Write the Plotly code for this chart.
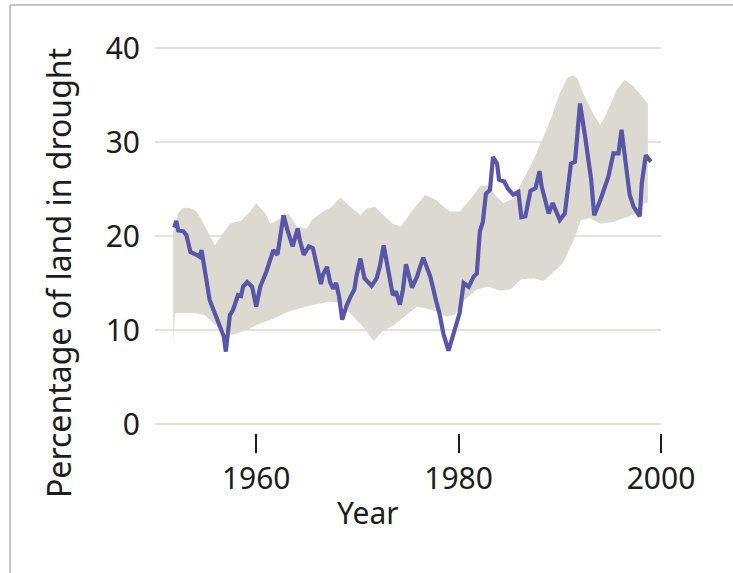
import plotly.graph_objects as go

# Observed share of land in drought (%)
line_years = [1951.9, 1952.1, 1952.3, 1952.8, 1953.1, 1953.5, 1954.1, 1954.4, 1954.6, 1955.4,
              1955.9, 1956.4, 1956.6, 1956.8, 1957.0, 1957.4, 1957.7, 1958.0, 1958.2, 1958.5,
              1958.7, 1959.1, 1959.6, 1960.0, 1960.4, 1961.0, 1961.4, 1961.7, 1962.1, 1962.7,
              1963.1, 1963.6, 1964.1, 1964.3, 1964.7, 1965.2, 1965.6, 1965.9, 1966.4, 1966.6,
              1967.0, 1967.3, 1967.6, 1967.9, 1968.2, 1968.5, 1968.9, 1969.3, 1969.7, 1969.9,
              1970.3, 1970.7, 1971.4, 1971.9, 1972.2, 1972.6, 1973.1, 1973.5, 1973.8, 1974.2,
              1974.5, 1974.8, 1975.4, 1975.9, 1976.5, 1977.2, 1977.8, 1978.1, 1978.5, 1979.0,
              1979.5, 1980.1, 1980.5, 1981.0, 1981.5, 1981.8, 1982.1, 1982.4, 1982.7, 1983.1,
              1983.4, 1983.8, 1984.0, 1984.5, 1984.9, 1985.4, 1985.9, 1986.2, 1986.6, 1987.1,
              1987.6, 1988.0, 1988.2, 1988.9, 1989.3, 1990.0, 1990.5, 1991.1, 1991.5, 1992.0,
              1992.5, 1992.8, 1993.1, 1993.4, 1994.0, 1994.8, 1995.3, 1995.8, 1996.1, 1996.9,
              1997.3, 1997.9, 1998.1, 1998.5, 1999.0]
line_values = [20.9, 21.6, 20.6, 20.5, 20.1, 18.3, 18.0, 17.8, 18.5, 13.2,
               11.8, 10.4, 9.6, 9.3, 7.7, 11.6, 12.1, 13.2, 13.7, 13.6,
               14.6, 15.1, 14.6, 12.5, 14.6, 16.2, 17.4, 18.5, 18.0, 22.2,
               20.6, 18.9, 20.8, 19.6, 18.0, 18.9, 18.7, 17.1, 14.9, 15.9,
               16.7, 15.1, 14.4, 15.0, 13.5, 11.1, 12.5, 13.5, 14.3, 15.7,
               17.6, 15.5, 14.7, 15.5, 16.7, 19.0, 15.8, 13.7, 14.1, 12.7,
               14.3, 17.0, 14.5, 15.7, 17.7, 15.7, 13.0, 11.8, 9.6, 7.8,
               9.6, 11.8, 15.0, 14.6, 15.7, 16.0, 20.5, 21.5, 24.5, 24.9,
               28.4, 27.7, 26.0, 25.8, 25.0, 24.4, 24.7, 22.0, 22.1, 24.8,
               25.1, 26.9, 25.3, 22.4, 23.5, 21.7, 22.4, 27.7, 27.9, 34.1,
               30.6, 28.1, 26.0, 22.2, 23.8, 26.3, 28.8, 28.8, 31.3, 24.4,
               23.1, 22.1, 25.6, 28.6, 27.9]

# Model range: upper edge
upper_years = [1951.8, 1952.3, 1952.8, 1953.4, 1954.0, 1954.4, 1955.3, 1955.9, 1956.6, 1957.4,
               1958.6, 1959.4, 1960.0, 1960.9, 1961.4, 1962.0, 1962.7, 1963.2, 1964.0, 1965.0,
               1965.5, 1966.6, 1967.5, 1968.3, 1969.3, 1970.3, 1970.9, 1971.7, 1972.6, 1973.5,
               1974.3, 1975.5, 1976.7, 1977.8, 1979.1, 1980.1, 1981.1, 1982.1, 1982.9, 1983.5,
               1984.4, 1985.4, 1986.4, 1987.4, 1988.4, 1989.2, 1990.0, 1990.8, 1991.3, 1991.7,
               1992.3, 1993.3, 1994.0, 1994.6, 1995.6, 1996.4, 1997.3, 1998.1, 1998.7]
upper_values = [20.5, 22.5, 23.0, 23.0, 22.7, 22.1, 20.3, 19.0, 20.1, 21.3,
                21.7, 22.6, 23.5, 22.4, 21.3, 21.6, 22.1, 22.4, 21.0, 20.8,
                21.7, 22.6, 23.1, 24.1, 23.1, 22.2, 22.9, 23.1, 22.2, 21.3,
                21.0, 22.8, 24.4, 23.8, 22.6, 22.6, 23.8, 25.3, 25.4, 24.5,
                23.5, 24.0, 26.0, 28.1, 30.6, 32.7, 35.2, 36.9, 37.1, 36.8,
                35.2, 33.0, 31.8, 33.0, 35.5, 36.6, 35.9, 34.8, 34.1]

# Model range: lower edge
lower_years = [1951.8, 1952.0, 1953.8, 1954.9, 1955.5, 1956.5, 1957.6, 1959.1, 1960.4, 1961.7,
               1963.3, 1965.3, 1967.3, 1968.3, 1969.3, 1970.6, 1971.6, 1972.5, 1973.6, 1974.5,
               1975.9, 1977.5, 1978.8, 1979.6, 1980.6, 1981.8, 1982.9, 1984.1, 1985.1, 1986.2,
               1987.4, 1988.4, 1989.4, 1990.3, 1991.3, 1992.1, 1993.0, 1994.0, 1995.3, 1996.6,
               1997.6, 1998.4, 1998.7]
lower_values = [8.6, 11.8, 11.8, 11.6, 11.0, 10.0, 9.5, 10.0, 10.7, 11.2,
                12.0, 12.6, 13.0, 12.9, 11.8, 10.3, 8.8, 9.9, 10.5, 11.3,
                12.5, 12.1, 11.4, 11.6, 13.2, 14.3, 14.6, 14.2, 14.3, 15.4,
                15.5, 15.2, 16.2, 17.1, 19.4, 21.7, 21.9, 21.3, 21.5, 22.0,
                22.4, 23.5, 23.5]

x_ticks = [1960, 1980, 2000]
y_ticks = [0, 10, 20, 30, 40]

FONT = "Noto Sans, Open Sans, sans-serif"
INK = "#1c1c1c"
W, H = 733, 573
ML, MR, MT, MB = 155, 72, 46, 140

band_x = upper_years + lower_years[::-1]
band_y = upper_values + lower_values[::-1]

fig = go.Figure()
fig.add_trace(go.Scatter(
    x=band_x, y=band_y, fill="toself", fillcolor="#dcdad0",
    line=dict(width=0), mode="lines", hoverinfo="skip", showlegend=False,
))
fig.add_trace(go.Scatter(
    x=line_years, y=line_values, mode="lines",
    line=dict(color="#5856a8", width=4.2), showlegend=False,
))

# Thin frame along the top and left edges of the page
pw, ph = W - ML - MR, H - MT - MB
def px_to_paper_x(px):
    return (px - ML) / pw
def py_to_paper_y(py):
    return (H - MB - py) / ph

frame = dict(color="#b0b0b0", width=1.5)
fig.add_shape(type="line", xref="paper", yref="paper", layer="above",
              x0=px_to_paper_x(10), x1=px_to_paper_x(W + 5),
              y0=py_to_paper_y(5), y1=py_to_paper_y(5), line=frame)
fig.add_shape(type="line", xref="paper", yref="paper", layer="above",
              x0=px_to_paper_x(10), x1=px_to_paper_x(10),
              y0=py_to_paper_y(5), y1=py_to_paper_y(H + 5), line=frame)

fig.add_annotation(text="Year", xref="paper", yref="paper",
                   x=px_to_paper_x(368), y=py_to_paper_y(512),
                   xanchor="center", yanchor="middle",
                   showarrow=False, font=dict(family=FONT, size=30, color=INK))
fig.add_annotation(text="Percentage of land in drought", xref="paper", yref="paper",
                   x=px_to_paper_x(58), y=py_to_paper_y(273), textangle=-90,
                   xanchor="center", yanchor="middle",
                   showarrow=False, font=dict(family=FONT, size=32, color=INK))

fig.update_layout(
    width=W, height=H, autosize=False,
    margin=dict(l=ML, r=MR, t=MT, b=MB),
    paper_bgcolor="white", plot_bgcolor="white",
    font=dict(family=FONT, color=INK),
    xaxis=dict(range=[1950, 2000], tickvals=x_ticks, ticks="outside", ticklen=19,
               tickwidth=2.2, tickcolor=INK, showgrid=False, zeroline=False,
               showline=False, tickfont=dict(size=30, family=FONT, color=INK),
               ticklabelstandoff=0),
    yaxis=dict(range=[-0.957, 40.213], tickvals=y_ticks, ticks="", showgrid=True,
               gridcolor="#e3e2da", gridwidth=2, zeroline=False, showline=False,
               tickfont=dict(size=30, family=FONT, color=INK), ticklabelstandoff=14),
)

fig.write_html("out.html")
